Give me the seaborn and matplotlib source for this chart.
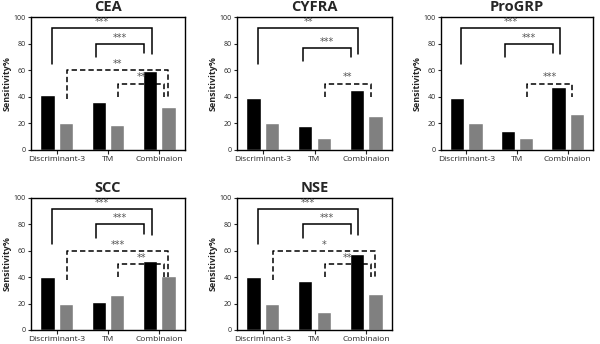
import matplotlib
matplotlib.use("Agg")
import matplotlib.pyplot as plt
import pandas as pd
import seaborn as sns

sns.set_style("ticks")
plt.rcParams["font.family"] = ["Open Sans", "DejaVu Sans"]

# ---------------------------------------------------------------------------
# Data
# ---------------------------------------------------------------------------
GROUPS = ["Discriminant-3", "TM", "Combinaion"]
SERIES = ["set 1", "set 2"]          # black bar, gray bar
MARKERS = ["CEA", "CYFRA", "ProGRP", "SCC", "NSE"]

CEA_BLACK = [41.7, 36.2, 59.2]
CEA_GRAY = [20.5, 18.6, 32.0]
CYFRA_BLACK = [39.2, 18.2, 45.0]
CYFRA_GRAY = [20.4, 9.2, 25.7]
PROGRP_BLACK = [39.0, 14.0, 47.0]
PROGRP_GRAY = [20.2, 9.2, 26.7]
SCC_BLACK = [40.2, 21.0, 52.6]
SCC_GRAY = [19.8, 26.3, 40.7]
NSE_BLACK = [40.4, 36.9, 57.8]
NSE_GRAY = [19.8, 13.3, 27.4]

BLACK_VALUES = [CEA_BLACK, CYFRA_BLACK, PROGRP_BLACK, SCC_BLACK, NSE_BLACK]
GRAY_VALUES = [CEA_GRAY, CYFRA_GRAY, PROGRP_GRAY, SCC_GRAY, NSE_GRAY]

# significance comparisons: (from group, to group, bracket height, label, kind)
CEA_SIG = [(0, 2, 92, "***", "solid"), (1, 2, 80, "***", "solid"),
           (0, 2, 60, "**", "dashed"), (1, 2, 50, "**", "dashed")]
CYFRA_SIG = [(0, 2, 92, "**", "solid"), (1, 2, 77, "***", "solid"),
             (1, 2, 50, "**", "dashed")]
PROGRP_SIG = [(0, 2, 92, "***", "solid"), (1, 2, 80, "***", "solid"),
              (1, 2, 50, "***", "dashed")]
SCC_SIG = [(0, 2, 92, "***", "solid"), (1, 2, 80, "***", "solid"),
           (0, 2, 60, "***", "dashed"), (1, 2, 50, "**", "dashed")]
NSE_SIG = [(0, 2, 92, "***", "solid"), (1, 2, 80, "***", "solid"),
           (0, 2, 60, "*", "dashed"), (1, 2, 50, "**", "dashed")]
SIGNIFICANCE = [CEA_SIG, CYFRA_SIG, PROGRP_SIG, SCC_SIG, NSE_SIG]

# bracket geometry: x offsets from group centres and leg drop lengths
BRACKET_GEOM = {
    ("solid", 0): (-0.10, -0.15, 27, 20),
    ("solid", 1): (-0.23, -0.29, 10, 7),
    ("dashed", 0): (0.20, 0.17, 22, 20),
    ("dashed", 1): (0.20, 0.09, 10, 10),
}

# axes rectangles in pixels: left, top, width, height (figure is 600x344)
W, H = 600, 344
AX_PX = [(31, 17, 154, 133), (237, 17, 155, 133), (441, 17, 152, 133),
         (31, 198, 154, 132), (237, 198, 155, 132)]


def draw_bracket(ax, start, end, height, label, kind):
    dl, dr, drop_l, drop_r = BRACKET_GEOM[(kind, start)]
    x0, x1 = start + dl, end + dr
    ls = "-" if kind == "solid" else (0, (3.5, 2))
    ax.plot([x0, x0, x1, x1],
            [height - drop_l, height, height, height - drop_r],
            color="black", lw=1.1, linestyle=ls, solid_joinstyle="miter",
            clip_on=False)
    ax.text((x0 + x1) / 2, height + 0.8, label, ha="center", va="bottom",
            fontsize=7, color="#555555", family="DejaVu Sans")


fig = plt.figure(figsize=(W / 100, H / 100), dpi=100)

for i, name in enumerate(MARKERS):
    l, t, w, h = AX_PX[i]
    ax = fig.add_axes([l / W, 1 - (t + h) / H, w / W, h / H])

    df = pd.DataFrame({
        "group": GROUPS * 2,
        "series": [SERIES[0]] * 3 + [SERIES[1]] * 3,
        "value": BLACK_VALUES[i] + GRAY_VALUES[i],
    })
    sns.barplot(data=df, x="group", y="value", hue="series",
                palette=["#000000", "#808080"], width=0.72, gap=0.22,
                legend=False, saturation=1, ax=ax)

    for start, end, height, label, kind in SIGNIFICANCE[i]:
        draw_bracket(ax, start, end, height, label, kind)

    ax.set_xlim(-0.5, 2.5)
    ax.set_ylim(0, 100)
    ax.set_yticks(range(0, 101, 20))
    ax.set_title(name, fontsize=10.5, fontweight="bold", pad=4)
    ax.set_xlabel("")
    ax.set_ylabel("Sensitivity%", fontsize=6.5, fontweight="bold", labelpad=1.5)
    ax.tick_params(axis="x", labelsize=6, length=3, width=0.8, pad=1.5)
    ax.tick_params(axis="y", labelsize=5, length=2.5, width=0.8, pad=1)
    for sp in ax.spines.values():
        sp.set_visible(True)
        sp.set_linewidth(1.0)
        sp.set_color("black")

fig.savefig("out.png", dpi=100)
